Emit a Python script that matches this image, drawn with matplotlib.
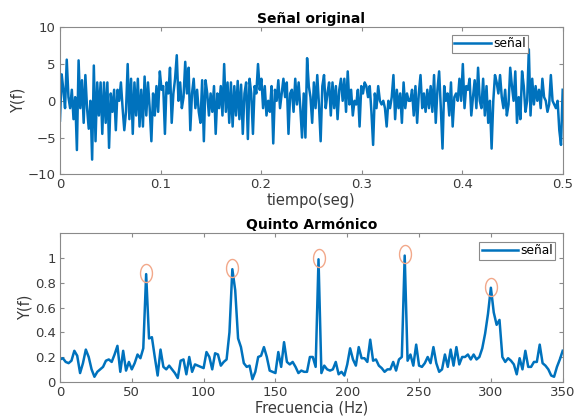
import numpy as np
import matplotlib
matplotlib.use("Agg")
import matplotlib.pyplot as plt
from matplotlib.path import Path

# ---------------- data ----------------
signal_part1 = [
    -2.7, 3.6, 1.5, -1, 5.6, 0.5, -1, 1.5, -2.5, 0.5, -6.7, 5.5, -1, 2.8, -3, 3.5,
    -1, -3.8, 0, -8, 4.8, -5.5, 2.5, -2, 2.5, -4.5, 2.5, -3, 2.5, -6.4, 1, -1.5,
    1.5, -4, 1.5, 0, 2.5, -1, -4, -1.5, 5, -2.5, 3, -4.5, 2.5, -2, 3, -3.5,
    1.5, -3.5, 3.3, -2, 2.5, -1, -5.5, 1, -2, 2, -1.5, 4, 1.5, 2, -4.5, 2.5,
    1, 4.5, -3, 1, 3, 6.2, 0, 2.5, -1, 0.5, 5.3, 1, 4.5, -4, 1, 3,
    -1, 1.5, -1.5, -3, 2.8, -5.5, 2.8, 1, -2, 1, -1.5, 2, -4.5, 1, -1, 2,
    -2, 5, -1.5, 2.5, -3, 2.5, -3.5, 2, -2, 2.7, -2.5, 2.2, -4.5, 1, 2.5, -5.2,
    3, 1, -4.5, 2, 1, 5, 1.5, 3, -1, 2, -2, 0, -1.5, 2, -5.8, 1.5,
    0, 2.8, -1, 1, 3, 0.5, 2.5, -4.5, 1, 1.5, -1.5, 3,
]
signal_part2 = [
    -0.5, 2.5, -1, -5, 1, -5, 5.8, 2, 0.5, -3, 2.5, -1, 3.5, -0.5, -5.5, 2,
    3.5, -1, 1, 2.5, -2, 2.5, -1, 2, -2.5, 1.5, 3, 0, 3, -1.5, 4, -0.5,
    1.5, -2, 0, -0.5, 1.5, -3.5, 2, 1, 2.5, 2, 0.5, 2, -1.5, -6, 1, -1,
    2, 0, -0.5, 0, -1, -3.5, 0, -1, 0.5, 3.5, -2.5, 1.5, -1, 1, -3, 2.5,
    -1, 1, 0, 0, 1.5, -2, 2, -3, 1, 3.5, -1, 1, -1.5, 1.5, -1, 2,
    -1.5, 3.5, -3, 1.5, 4, -1, -6.5, 2, 0, 1, -2, 2.5, -3.5, 0.5, 1, 0,
    3, 0, 5, -1, 2, 1.5, 3, -2, 0.5, 2.8, -1, 4.5, 0, -1, 3, -2,
    2, -3, 0, -6.5, 0, 3.5, 2.5, 1, 3.5, 0.5, -1, 1.5, -2, -0.5, 4.5, 2,
    0, 4, -3, 0.5, -2.5, 4, 2, -1.5, 0, 7, -2, 3, -0.5, 2, 0, 1.5,
    -1, 3, 0.5, 0, -1.5, -0.5, 3.5, 0, -0.5, -1, 0, -4, -6, 1.5,
]
signal_values = signal_part1 + signal_part2
time_values = np.linspace(0, 0.5, len(signal_values))

spectrum_values = [
    0.18, 0.19, 0.16, 0.15, 0.17, 0.25, 0.21, 0.07, 0.15, 0.26, 0.20, 0.10,
    0.04, 0.08, 0.10, 0.12, 0.17, 0.18, 0.16, 0.22, 0.29, 0.08, 0.25, 0.09,
    0.16, 0.10, 0.15, 0.22, 0.19, 0.27, 0.87, 0.35, 0.36, 0.20, 0.05, 0.26,
    0.12, 0.10, 0.13, 0.10, 0.07, 0.03, 0.17, 0.18, 0.06, 0.20, 0.08, 0.14,
    0.13, 0.12, 0.11, 0.24, 0.20, 0.10, 0.23, 0.22, 0.13, 0.16, 0.18, 0.40,
    0.91, 0.74, 0.35, 0.28, 0.15, 0.12, 0.13, 0.02, 0.08, 0.20, 0.21, 0.28,
    0.20, 0.09, 0.08, 0.07, 0.24, 0.12, 0.32, 0.16, 0.14, 0.16, 0.12, 0.07,
    0.09, 0.08, 0.08, 0.20, 0.20, 0.12, 0.99, 0.07, 0.13, 0.10, 0.09, 0.10,
    0.16, 0.06, 0.08, 0.05, 0.14, 0.27, 0.18, 0.13, 0.28, 0.19, 0.19, 0.16,
    0.34, 0.17, 0.18, 0.13, 0.11, 0.08, 0.10, 0.10, 0.16, 0.09, 0.18, 0.20,
    1.02, 0.17, 0.22, 0.13, 0.30, 0.13, 0.12, 0.15, 0.20, 0.15, 0.28, 0.15,
    0.08, 0.10, 0.22, 0.12, 0.26, 0.13, 0.28, 0.14, 0.20, 0.20, 0.22, 0.18,
    0.22, 0.18, 0.20, 0.27, 0.39, 0.55, 0.76, 0.56, 0.46, 0.50, 0.20, 0.16,
    0.19, 0.17, 0.14, 0.06, 0.19, 0.10, 0.25, 0.12, 0.12, 0.16, 0.16, 0.30,
    0.15, 0.13, 0.10, 0.05, 0.04, 0.12, 0.18, 0.25,
]
freq_values = np.arange(len(spectrum_values)) * 2

peak_freqs = [60, 120, 180, 240, 300]
peak_values = [0.88, 0.92, 1.00, 1.03, 0.77]

top_xticks = [0, 0.1, 0.2, 0.3, 0.4, 0.5]
top_xticklabels = ["0", "0.1", "0.2", "0.3", "0.4", "0.5"]
top_yticks = [-10, -5, 0, 5, 10]
bot_xticks = [0, 50, 100, 150, 200, 250, 300, 350]
bot_yticks = [0, 0.2, 0.4, 0.6, 0.8, 1]
bot_yticklabels = ["0", "0.2", "0.4", "0.6", "0.8", "1"]

# ---------------- style ----------------
plt.rcParams['font.family'] = ['DejaVu Sans']
LINE = '#0072BD'
AX = '#8a8a8a'
TXT = '#3a3a3a'

fig = plt.figure(figsize=(5.75, 4.18), dpi=100)
ax1 = fig.add_axes([0.1043, 0.583, 0.8743, 0.3517])
ax2 = fig.add_axes([0.1043, 0.0868, 0.8743, 0.355])


def style(ax):
    for s in ax.spines.values():
        s.set_color(AX)
        s.set_linewidth(0.8)
    ax.tick_params(direction='in', top=True, right=True, length=3,
                   color=AX, labelcolor=TXT, labelsize=9.5, pad=3)


LEG = dict(loc='upper right', borderaxespad=0, fontsize=8.8, fancybox=False,
           framealpha=1, edgecolor=AX, handlelength=3.0, handletextpad=0.15,
           borderpad=0.2)

# top plot
ax1.plot(time_values, signal_values, color=LINE, lw=1.8, label='señal')
ax1.set_xlim(0, 0.5)
ax1.set_ylim(-10, 10)
ax1.set_xticks(top_xticks)
ax1.set_xticklabels(top_xticklabels)
ax1.set_yticks(top_yticks)
style(ax1)
ax1.set_title('Señal original', fontsize=10, fontweight='bold', color='black', pad=3)
ax1.set_xlabel('tiempo(seg)', fontsize=10.5, color=TXT, labelpad=1)
ax1.set_ylabel('Y(f)', fontsize=10.5, color=TXT, labelpad=2)
leg1 = ax1.legend(bbox_to_anchor=(0.931, 0.948), **LEG)
leg1.get_frame().set_linewidth(0.8)

# bottom plot
t = np.linspace(0, 2 * np.pi, 60)
ellipse = Path(np.column_stack([0.66 * np.cos(t), np.sin(t)]))
ax2.plot(freq_values, spectrum_values, color=LINE, lw=1.8, label='señal')
ax2.plot(peak_freqs, peak_values, linestyle='none', marker=ellipse, markersize=13,
         markerfacecolor='none', markeredgecolor='#F2A88A', markeredgewidth=1.0)
ax2.set_xlim(0, 350)
ax2.set_ylim(0, 1.2)
ax2.set_xticks(bot_xticks)
ax2.set_yticks(bot_yticks)
ax2.set_yticklabels(bot_yticklabels)
style(ax2)
ax2.set_title('Quinto Armónico', fontsize=10, fontweight='bold', color='black', pad=3)
ax2.set_xlabel('Frecuencia (Hz)', fontsize=10.5, color=TXT, labelpad=1)
ax2.set_ylabel('Y(f)', fontsize=10.5, color=TXT, labelpad=2)
leg2 = ax2.legend(bbox_to_anchor=(0.985, 0.943), **LEG)
leg2.get_frame().set_linewidth(0.8)

fig.savefig('out.png', dpi=100)
